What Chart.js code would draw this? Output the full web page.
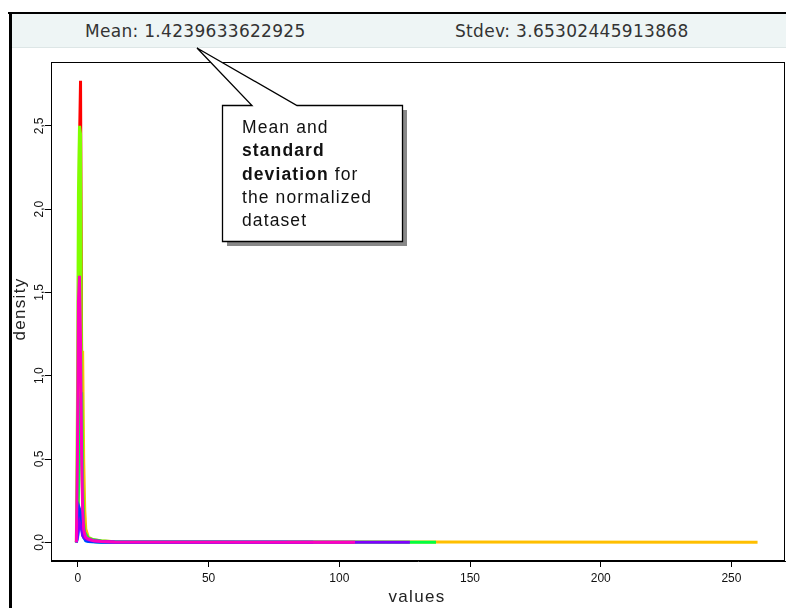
<!DOCTYPE html>
<html>
<head>
<meta charset="utf-8">
<script src="https://cdn.jsdelivr.net/npm/chart.js@4.4.1/dist/chart.umd.min.js"></script>
<style>
  html, body { margin:0; padding:0; background:#fff; width:786px; height:608px; overflow:hidden; }
  #wrap { position:relative; width:786px; height:608px; }
  #c { position:absolute; left:0; top:0; }
  .abs { position:absolute; }
  #band { left:12px; top:14px; width:774px; height:33px; background:#eef5f5; border-bottom:1px solid #dde6e6; }
  .hdr { font-family:"DejaVu Sans", sans-serif; font-size:17px; color:#333; letter-spacing:0.3px; white-space:nowrap; top:21px; }
  #ytitle { font-family:"Liberation Sans", Arial, sans-serif; font-size:17px; letter-spacing:1.3px; color:#222;
            left:20px; top:309px; transform:translate(-50%,-50%) rotate(-90deg); white-space:nowrap; }
  #xtitle { font-family:"Liberation Sans", Arial, sans-serif; font-size:17px; letter-spacing:1.3px; color:#222;
            left:417px; top:597px; transform:translate(-50%,-50%); white-space:nowrap; }
  #note { left:242px; top:116px; font-family:"Liberation Sans", Arial, sans-serif; font-size:17.5px; letter-spacing:1.1px;
          line-height:23.3px; color:#111; white-space:nowrap; }
</style>
</head>
<body>
<div id="wrap">
  <canvas id="c" width="786" height="608"></canvas>
  <div class="abs" style="left:8px;top:12px;width:778px;height:2px;background:#000"></div>
  <div class="abs" style="left:9px;top:12px;width:3px;height:596px;background:#000"></div>
  <div class="abs" id="band"></div>
  <div class="abs hdr" id="meanTxt" style="left:85px"></div>
  <div class="abs hdr" id="sdTxt" style="left:455px"></div>
  <div class="abs" id="ytitle">density</div>
  <div class="abs" id="xtitle">values</div>
  <svg class="abs" style="left:0;top:0" width="786" height="608">
    <rect x="227" y="110" width="180" height="136" fill="#888"/>
    <path d="M222.5 105.5 L252 105.5 L197 48 L297 105.5 L402.5 105.5 L402.5 241.5 L222.5 241.5 Z" fill="#fff" stroke="#000" stroke-width="1.3"/>
  </svg>
  <div class="abs" id="note">Mean and<br><b>standard</b><br><b>deviation</b> for<br>the normalized<br>dataset</div>
</div>
<script>
// ---- data ----
const meanValue = "1.4239633622925";
const stdevValue = "3.65302445913868";

const xTicks = [0, 50, 100, 150, 200, 250];
const xTickLabels = ["0", "50", "100", "150", "200", "250"];
const yTicks = [0, 0.5, 1.0, 1.5, 2.0, 2.5];
const yTickLabels = ["0,0", "0,5", "1,0", "1,5", "2,0", "2,5"];

// common x positions near the spike
const xGrid = [-0.6, -0.2, 0.2, 0.6, 1.0, 1.4, 1.8, 2.2, 2.6, 3.0, 4.0, 6.0, 9.0, 14.0];

const seriesNames = ["s1", "s2", "s3", "s4", "s5", "s6", "s7", "s8"];
const redY     = [0, 0.05, 0.60, 2.40, 2.77, 1.20, 0.15, 0.13, 0.05, 0.02, 0.010, 0.005, 0.002, 0.000];
const goldY    = [0, 0.05, 0.30, 0.70, 0.95, 1.05, 1.15, 0.50, 0.20, 0.08, 0.030, 0.015, 0.010, 0.004];
const limeY    = [0, 0.80, 2.10, 2.50, 2.45, 0.90, 0.15, 0.05, 0.03, 0.02, 0.010, 0.005, 0.002, 0.000];
const greenY   = [0, 0.09, 0.30, 0.60, 0.85, 0.90, 0.35, 0.12, 0.06, 0.05, 0.025, 0.015, 0.008, 0.003];
const cyanY    = [0, 0.02, 0.06, 0.10, 0.12, 0.10, 0.06, 0.03, 0.02, 0.01, 0.005, 0.003, 0.001, 0.000];
const blueY    = [0, 0.05, 0.10, 0.20, 0.18, 0.10, 0.05, 0.03, 0.02, 0.01, 0.005, 0.003, 0.001, 0.000];
const purpleY  = [0, 0.03, 0.08, 0.12, 0.10, 0.08, 0.04, 0.03, 0.025, 0.02, 0.015, 0.010, 0.005, 0.002];
const magentaY = [0, 0.50, 1.45, 1.60, 1.20, 0.55, 0.20, 0.08, 0.05, 0.03, 0.020, 0.010, 0.005, 0.002];
const tailEnds = [60, 260, 55, 137, 80, 90, 127, 106];

const seriesColors = ["#FF0000", "#FFBF00", "#80FF00", "#00FF40", "#00FFFF", "#0040FF", "#8000FF", "#FF00BF"];
// ------------------------------------

document.getElementById('meanTxt').textContent = "Mean: " + meanValue;
document.getElementById('sdTxt').textContent = "Stdev: " + stdevValue;

const allY = [redY, goldY, limeY, greenY, cyanY, blueY, purpleY, magentaY];
const datasets = allY.map((ys, i) => {
  const pts = xGrid.map((x, k) => ({ x: x, y: ys[k] }));
  pts.push({ x: tailEnds[i], y: 0 });
  return {
    label: seriesNames[i],
    data: pts,
    borderColor: seriesColors[i],
    backgroundColor: seriesColors[i],
    borderWidth: 3,
    pointRadius: 0,
    tension: 0,
    fill: false,
    order: allY.length - 1 - i
  };
});

const boxAndLabels = {
  id: 'boxAndLabels',
  afterDraw(chart) {
    const { ctx, chartArea: a, scales } = chart;
    ctx.save();
    ctx.strokeStyle = '#000';
    ctx.lineWidth = 1;
    ctx.strokeRect(Math.round(a.left) + 0.5, Math.round(a.top) + 0.5,
                   Math.round(a.right - a.left) - 1, Math.round(a.bottom - a.top) - 1);
    ctx.fillStyle = '#111';
    ctx.font = '12px "Liberation Sans", Arial, sans-serif';
    ctx.textAlign = 'center';
    ctx.textBaseline = 'middle';
    yTicks.forEach((v, i) => {
      const py = scales.y.getPixelForValue(v);
      ctx.save();
      ctx.translate(40, py);
      ctx.rotate(-Math.PI / 2);
      ctx.fillText(yTickLabels[i], 0, 0);
      ctx.restore();
    });
    ctx.restore();
  }
};

new Chart(document.getElementById('c'), {
  type: 'line',
  data: { datasets },
  options: {
    responsive: false,
    animation: false,
    devicePixelRatio: 1,
    layout: { padding: { top: 62, right: 1, left: 0, bottom: 0 } },
    plugins: { legend: { display: false }, tooltip: { enabled: false } },
    scales: {
      x: {
        type: 'linear',
        min: -10.3, max: 270.5,
        afterBuildTicks: s => { s.ticks = xTicks.map(v => ({ value: v })); },
        afterFit: s => { s.height = 47; },
        grid: { drawOnChartArea: false, drawTicks: true, tickLength: 6, color: '#000' },
        border: { display: true, color: '#000' },
        ticks: {
          color: '#111', padding: 4, maxRotation: 0, autoSkip: false,
          font: { family: '"Liberation Sans", Arial, sans-serif', size: 12 },
          callback: (v) => { const i = xTicks.indexOf(v); return i >= 0 ? xTickLabels[i] : ''; }
        }
      },
      y: {
        type: 'linear',
        min: -0.112, max: 2.883,
        afterBuildTicks: s => { s.ticks = yTicks.map(v => ({ value: v })); },
        afterFit: s => { s.width = 51; },
        grid: { drawOnChartArea: false, drawTicks: true, tickLength: 6, color: '#000' },
        border: { display: true, color: '#000' },
        ticks: { display: false }
      }
    }
  },
  plugins: [boxAndLabels]
});
</script>
</body>
</html>
